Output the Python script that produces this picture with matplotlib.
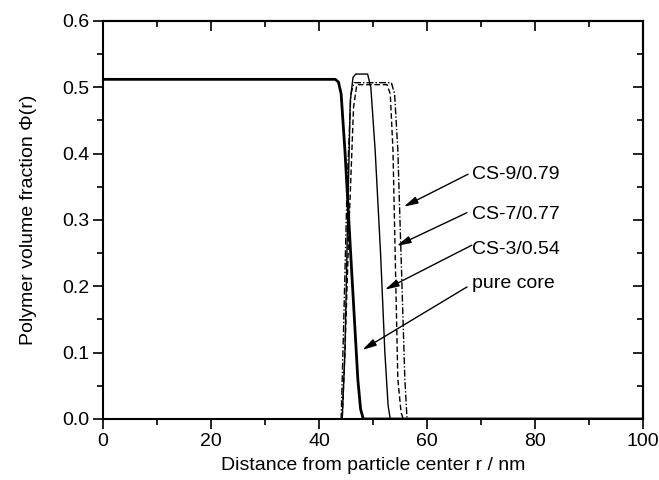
import numpy as np
import matplotlib
matplotlib.use("Agg")
import matplotlib.pyplot as plt
from matplotlib.ticker import MultipleLocator, FormatStrFormatter

plt.rcParams["font.family"] = ["Liberation Sans", "DejaVu Sans"]

# volume-fraction profiles (r in nm)
r_core = [0, 43.0, 43.6, 44.1, 44.8, 46.0, 47.2, 47.7, 48.2, 100]
phi_core = [0.512, 0.512, 0.508, 0.49, 0.405, 0.23, 0.059, 0.015, 0.0, 0.0]

r_cs3 = [0, 44.3, 44.8, 45.3, 45.8, 46.3, 46.8, 49.0, 49.6, 50.4, 51.4, 52.2, 52.8, 53.2, 100]
phi_cs3 = [0, 0, 0.10, 0.30, 0.48, 0.515, 0.52, 0.52, 0.50, 0.405, 0.25, 0.10, 0.02, 0, 0]

r_cs7 = [0, 44.3, 44.8, 45.6, 46.4, 47.0, 52.6, 53.2, 53.7, 54.6, 55.2, 55.6, 100]
phi_cs7 = [0, 0, 0.10, 0.30, 0.47, 0.504, 0.504, 0.49, 0.405, 0.06, 0.01, 0, 0]

r_cs9 = [0, 44.1, 44.5, 45.2, 45.9, 46.5, 53.4, 54.0, 54.6, 55.9, 56.3, 100]
phi_cs9 = [0, 0, 0.12, 0.35, 0.49, 0.507, 0.507, 0.49, 0.405, 0.06, 0, 0]

labels = ["CS-9/0.79", "CS-7/0.77", "CS-3/0.54", "pure core"]
label_y = [0.368, 0.309, 0.256, 0.205]
label_x = 68.4
arrow_tail = [(67.6, 0.369), (67.4, 0.311), (68.3, 0.262), (67.4, 0.199)]
arrow_tip = [(55.7, 0.320), (54.4, 0.261), (52.2, 0.195), (48.0, 0.104)]

fs = 14
fig = plt.figure(figsize=(6.59, 4.8), dpi=100)
ax = fig.add_axes([0.1563, 0.1271, 0.8194, 0.8292])

ax.plot(r_core, phi_core, color="black", lw=2.0, solid_joinstyle="round")
ax.plot(r_cs3, phi_cs3, color="black", lw=1.0)
ax.plot(r_cs7, phi_cs7, color="black", lw=1.0, dashes=(4, 2))
ax.plot(r_cs9, phi_cs9, color="black", lw=1.0, dashes=(5, 1.5, 1, 1.5))

for lab, ly, tail, tip in zip(labels, label_y, arrow_tail, arrow_tip):
    ax.text(label_x, ly, lab, fontsize=fs, va="center", ha="left")
    ax.annotate("", xy=tip, xytext=tail,
                arrowprops=dict(arrowstyle="-|>,head_length=0.7,head_width=0.18",
                                color="black", lw=1.0, mutation_scale=12,
                                shrinkA=0, shrinkB=0))

ax.set_xlim(0, 100)
ax.set_ylim(0, 0.6)
ax.xaxis.set_major_locator(MultipleLocator(20))
ax.xaxis.set_minor_locator(MultipleLocator(10))
ax.yaxis.set_major_locator(MultipleLocator(0.1))
ax.yaxis.set_minor_locator(MultipleLocator(0.05))
ax.yaxis.set_major_formatter(FormatStrFormatter("%.1f"))
ax.tick_params(which="major", direction="out", length=7, width=1.2, labelsize=fs, pad=3)
ax.tick_params(which="minor", direction="out", length=4, width=1.2)

# inward ticks on the top and right spines
top = ax.secondary_xaxis("top")
top.xaxis.set_major_locator(MultipleLocator(20))
top.xaxis.set_minor_locator(MultipleLocator(10))
top.tick_params(which="major", direction="in", length=7, width=1.2, labeltop=False)
top.tick_params(which="minor", direction="in", length=4, width=1.2)
right = ax.secondary_yaxis("right")
right.yaxis.set_major_locator(MultipleLocator(0.1))
right.yaxis.set_minor_locator(MultipleLocator(0.05))
right.tick_params(which="major", direction="in", length=7, width=1.2, labelright=False)
right.tick_params(which="minor", direction="in", length=4, width=1.2)

for sp in list(ax.spines.values()) + [top.spines["top"], right.spines["right"]]:
    sp.set_linewidth(1.5)

ax.set_xlabel("Distance from particle center r / nm", fontsize=fs, labelpad=5)
ax.set_ylabel("Polymer volume fraction \u03a6(r)", fontsize=fs, labelpad=18)

fig.savefig("out.png", dpi=100)
